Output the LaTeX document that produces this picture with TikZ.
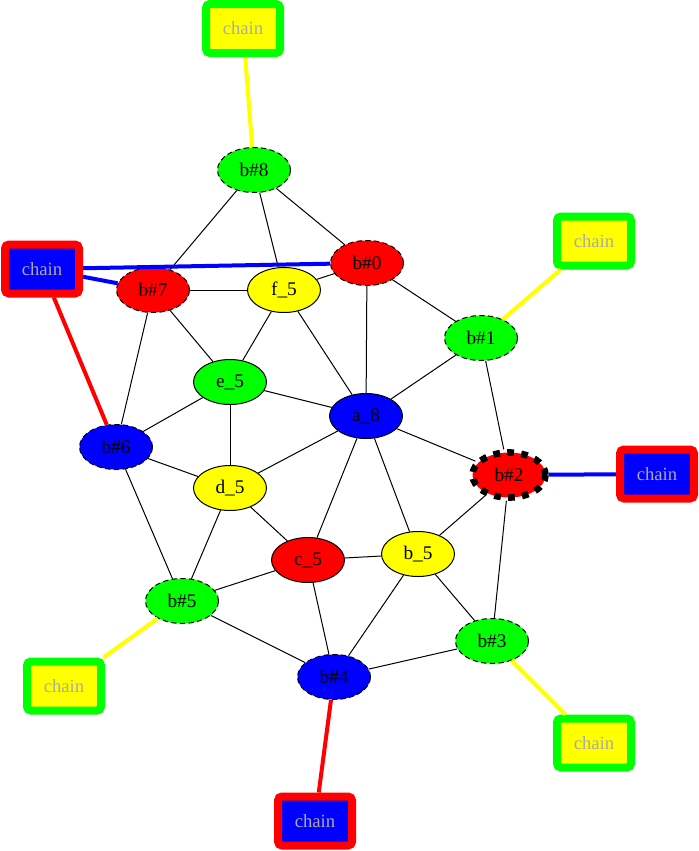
\documentclass[tikz,border=0pt]{standalone}
\usepackage{fontspec}
\setmainfont{Liberation Serif}
\usetikzlibrary{shapes.geometric}
\definecolor{cgray}{HTML}{AAAAAA}
\definecolor{gred}{HTML}{FF0000}
\definecolor{ggreen}{HTML}{00FF00}
\definecolor{gblue}{HTML}{0000FF}
\definecolor{gyellow}{HTML}{FFFF00}
\begin{document}
\begin{tikzpicture}[x=0.75pt,y=-0.75pt,
  vnode/.style={ellipse,draw=black,line width=0.75pt,minimum width=54.75pt,minimum height=33.75pt,inner sep=0pt,font=\fontsize{14.5}{16}\selectfont},
  bnode/.style={vnode,dash pattern=on 4pt off 2.5pt},
  thickdash/.style={vnode,line width=5pt,dash pattern=on 5pt off 5.5pt},
  chainbox/.style={rectangle,rounded corners=3pt,line width=6pt,minimum width=55.5pt,minimum height=36.75pt,inner sep=0pt,text=cgray,font=\fontsize{14}{16}\selectfont},
  yg/.style={chainbox,draw=ggreen,fill=gyellow},
  br/.style={chainbox,draw=gred,fill=gblue},
  edge/.style={black,line width=0.75pt},
  yedge/.style={gyellow,line width=3pt},
  bedge/.style={gblue,line width=3pt},
  redge/.style={gred,line width=3pt}]
\useasboundingbox (0,0) rectangle (699,851);
% graph nodes
\node[bnode,fill=ggreen] (b8) at (254,170) {b\#8};
\node[bnode,fill=gred] (b0) at (367,263) {b\#0};
\node[bnode,fill=gred] (b7) at (153,290) {b\#7};
\node[vnode,fill=gyellow] (f5) at (284,290) {f\_5};
\node[bnode,fill=ggreen] (b1) at (481,338) {b\#1};
\node[vnode,fill=ggreen] (e5) at (230,382) {e\_5};
\node[vnode,fill=gblue] (a8) at (366,416) {a\_8};
\node[bnode,fill=gblue] (b6) at (116,447) {b\#6};
\node[thickdash,fill=gred] (b2) at (509,475) {b\#2};
\node[vnode,fill=gyellow] (d5) at (230,488) {d\_5};
\node[vnode,fill=gred] (c5) at (308,560) {c\_5};
\node[vnode,fill=gyellow] (b5n) at (418,554) {b\_5};
\node[bnode,fill=ggreen] (b5) at (182,601) {b\#5};
\node[bnode,fill=ggreen] (b3) at (492,641) {b\#3};
\node[bnode,fill=gblue] (b4) at (334,677) {b\#4};
% chain boxes
\node[yg] (ct) at (243,28.5) {chain};
\node[br] (cl) at (42,269) {chain};
\node[yg] (crt) at (594,241) {chain};
\node[br] (cr) at (657,474) {chain};
\node[yg] (cbl) at (64,686) {chain};
\node[yg] (cbr) at (594,743) {chain};
\node[br] (cb) at (315,821) {chain};
% black edges
\foreach \u/\v in {b8/b7,b8/f5,b8/b0,b0/f5,b0/b1,b0/a8,f5/a8,f5/e5,b7/f5,b7/e5,b7/b6,
  e5/a8,e5/b6,e5/d5,b6/d5,b6/b5,a8/b1,a8/b2,a8/d5,a8/c5,a8/b5n,b1/b2,b2/b5n,b2/b3,
  d5/c5,d5/b5,c5/b5n,c5/b5,c5/b4,b5n/b4,b5n/b3,b5/b4,b4/b3}
  \draw[edge] (\u) -- (\v);
% chain edges
\draw[yedge] (ct) -- (b8);
\draw[bedge] (cl) -- (b0);
\draw[bedge] (cl) -- (b7);
\draw[redge] (cl) -- (b6);
\draw[yedge] (crt) -- (b1);
\draw[bedge] (cr) -- (b2);
\draw[yedge] (cbl) -- (b5);
\draw[yedge] (cbr) -- (b3);
\draw[redge] (cb) -- (b4);
\end{tikzpicture}
\end{document}
